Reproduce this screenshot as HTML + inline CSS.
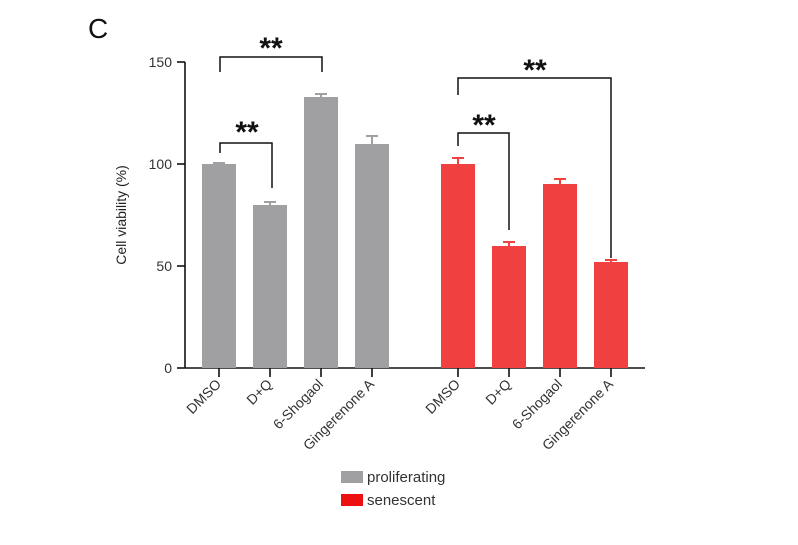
<!DOCTYPE html>
<html><head><style>body{margin:0;background:#fff}</style></head><body>
<svg width="798" height="540" xmlns="http://www.w3.org/2000/svg" font-family="Liberation Sans, sans-serif">
<text x="88" y="38" font-size="28" fill="#111">C</text>
<g stroke="#111" stroke-width="1.6" fill="none">
<line x1="185" y1="62" x2="185" y2="368"/>
<line x1="185" y1="368" x2="645" y2="368"/>
<line x1="177" y1="62" x2="185" y2="62"/><line x1="177" y1="164" x2="185" y2="164"/><line x1="177" y1="266" x2="185" y2="266"/><line x1="177" y1="368" x2="185" y2="368"/>
<line x1="219" y1="368" x2="219" y2="377"/><line x1="270" y1="368" x2="270" y2="377"/><line x1="321" y1="368" x2="321" y2="377"/><line x1="372" y1="368" x2="372" y2="377"/>
<line x1="458" y1="368" x2="458" y2="377"/><line x1="509" y1="368" x2="509" y2="377"/><line x1="560" y1="368" x2="560" y2="377"/><line x1="611" y1="368" x2="611" y2="377"/>
</g>
<g font-size="14" fill="#333" text-anchor="end">
<text x="172" y="67">150</text><text x="172" y="169">100</text><text x="172" y="271">50</text><text x="172" y="373">0</text>
</g>
<text transform="translate(126,215) rotate(-90)" font-size="14" fill="#222" text-anchor="middle">Cell viability (%)</text>
<g fill="#a0a0a2">
<rect x="202" y="164" width="34" height="204"/><rect x="253" y="205" width="34" height="163"/><rect x="304" y="97" width="34" height="271"/><rect x="355" y="144" width="34" height="224"/>
</g>
<g fill="#f04040">
<rect x="441" y="164" width="34" height="204"/><rect x="492" y="246" width="34" height="122"/><rect x="543" y="184" width="34" height="184"/><rect x="594" y="262" width="34" height="106"/>
</g>
<g stroke="#a0a0a2" stroke-width="2">
<path d="M213 163h12M264 202h12M270 202v4M315 94h12M321 94v4M366 136h12M372 136v8"/>
</g>
<g stroke="#f04040" stroke-width="2">
<path d="M452 158h12M458 158v6M503 242h12M509 242v4M554 179h12M560 179v6M605 260h12M611 260v3"/>
</g>
<g stroke="#111" stroke-width="1.5" fill="none">
<path d="M220 72V57H322V72"/>
<path d="M220 153V143H272V188"/>
<path d="M458 95V78H611V258"/>
<path d="M458 146V133H509V230"/>
</g>
<g font-size="30" font-weight="bold" fill="#111" text-anchor="middle">
<text x="271" y="58">**</text><text x="247" y="142">**</text><text x="535" y="80">**</text><text x="484" y="135">**</text>
</g>
<g font-size="14" fill="#333" text-anchor="end">
<text transform="translate(222,385) rotate(-45)">DMSO</text>
<text transform="translate(273,385) rotate(-45)">D+Q</text>
<text transform="translate(324,385) rotate(-45)">6-Shogaol</text>
<text transform="translate(375,385) rotate(-45)">Gingerenone A</text>
<text transform="translate(461,385) rotate(-45)">DMSO</text>
<text transform="translate(512,385) rotate(-45)">D+Q</text>
<text transform="translate(563,385) rotate(-45)">6-Shogaol</text>
<text transform="translate(614,385) rotate(-45)">Gingerenone A</text>
</g>
<rect x="341" y="471" width="22" height="12" fill="#a0a0a2"/>
<rect x="341" y="494" width="22" height="12" fill="#ee1111"/>
<g font-size="15" fill="#333"><text x="367" y="482">proliferating</text><text x="367" y="505">senescent</text></g>
</svg>
</body></html>
